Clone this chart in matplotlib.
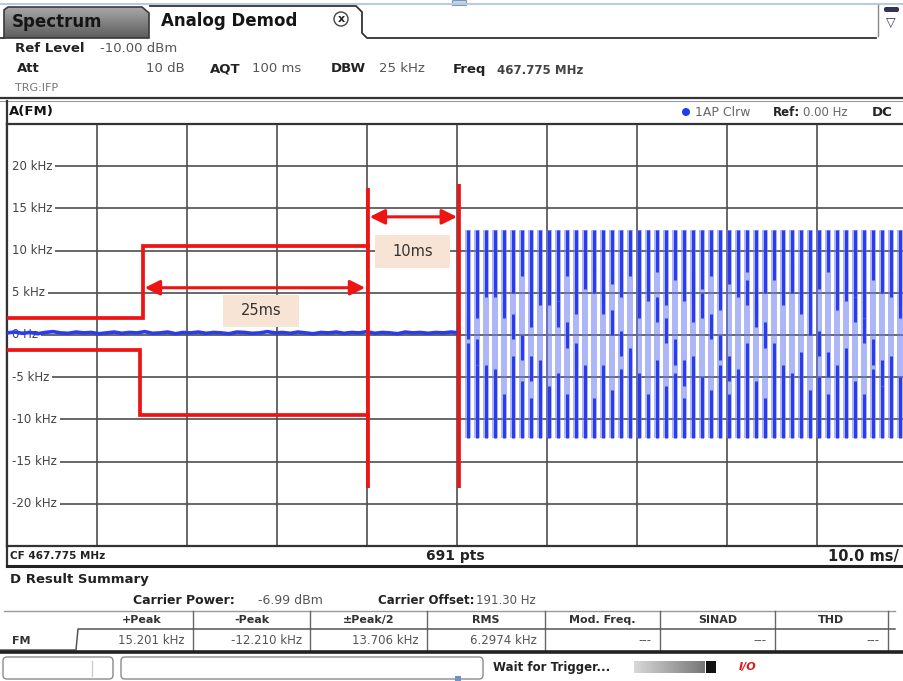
import numpy as np
import matplotlib.pyplot as plt
from matplotlib.colors import LinearSegmentedColormap
from matplotlib.patches import Rectangle, Polygon, Circle, FancyBboxPatch

plt.rcParams['font.family'] = ['DejaVu Sans']

# ---- trace data (time in ms, FM deviation in kHz) ----
# pre-trigger residual FM, read as small ripple round the 0 Hz line
pre_v = [0.25, 0.35, 0.2, 0.3, 0.15, 0.3, 0.4, 0.25, 0.2, 0.35, 0.25, 0.3, 0.15, 0.25, 0.35,
         0.2, 0.3, 0.25, 0.4, 0.2, 0.25, 0.35, 0.15, 0.3, 0.25, 0.35, 0.2, 0.3, 0.25, 0.15,
         0.35, 0.3, 0.2, 0.25, 0.4, 0.25, 0.3, 0.2, 0.35, 0.25, 0.15, 0.3, 0.25, 0.35, 0.2,
         0.3, 0.25, 0.4, 0.2, 0.3, 0.25, 0.15, 0.35, 0.25, 0.3, 0.2, 0.3, 0.25, 0.35, 0.25]

# modulated part: one stroke per tone cycle (about 1 ms apart)
tone_t = [51.2, 52.2, 53.2, 54.2, 55.2, 56.2, 57.2, 58.2, 59.2, 60.2,
          61.2, 62.2, 63.2, 64.2, 65.2, 66.2, 67.2, 68.2, 69.2, 70.2,
          71.2, 72.2, 73.2, 74.2, 75.2, 76.2, 77.2, 78.2, 79.2, 80.2,
          81.2, 82.2, 83.2, 84.2, 85.2, 86.2, 87.2, 88.2, 89.2, 90.2,
          91.2, 92.2, 93.2, 94.2, 95.2, 96.2, 97.2, 98.2, 99.2]
tone_hi = 12.4
tone_lo = -12.2
top_end = [0.5, 2.0, 4.5, 6.5, 3.0, 5.0, 7.0, 1.0, 3.5, 6.0, 4.0, 7.0, 2.5, 5.5, 7.5,
           3.0, 6.0, 4.5, 7.0, 2.0, 5.0, 7.5, 3.5, 6.5, 4.0, 1.5, 5.5, 7.0, 3.0, 6.0,
           4.5, 7.5, 2.5, 5.0, 6.5, 3.5, 7.0, 4.0, 1.0, 5.5, 7.5, 3.0, 6.0, 4.5, 2.0,
           6.5, 5.0, 7.0, 3.5]
bot_end = [-1.0, -3.5, -6.0, -4.0, -7.0, -2.5, -5.5, -7.5, -3.0, -6.0, -4.5, -7.0,
           -2.0, -5.0, -7.5, -3.5, -6.5, -4.0, -1.5, -5.5, -7.0, -3.0, -6.0, -4.5,
           -7.5, -2.5, -5.0, -6.5, -3.5, -7.0, -4.0, -1.0, -5.5, -7.5, -3.0, -6.0,
           -4.5, -2.0, -6.5, -5.0, -7.0, -3.5, -1.5, -5.5, -7.0, -4.0, -6.0, -2.5, -5.0]
mid_dash = [1.0, -2.0, -5.0, 6.0, 3.5, 1.0, -1.5, -4.0, -6.5, 5.0, 2.5, 0.0, -2.5,
            -5.0, 6.5, 4.0, 1.5, -1.0, -3.5, -6.0, 5.5, 3.0, 0.5, -2.0, -4.5, 6.0,
            3.5, 1.0, -1.5, -4.0, -6.5, 5.0, 2.5, 0.0, -2.5, -5.0, 6.5, 4.0, 1.5,
            -1.0, -3.5, -6.0, 5.5, 3.0, 0.5, -2.0, -4.5, 6.0, 3.5]

# red annotation overlay (mask steps and gate lines)
upper_t = [0, 15.1, 15.1, 40.1]
upper_v = [2.0, 2.0, 10.5, 10.5]
lower_t = [0, 14.8, 14.8, 40.1]
lower_v = [-1.8, -1.8, -9.5, -9.5]
gate_t = [40.1, 50.2]
gate_top = [17.4, 17.9]
gate_bot = [-18.1, -18.1]

ytick_vals = [20, 15, 10, 5, 0, -5, -10, -15, -20]
ytick_text = ['20 kHz', '15 kHz', '10 kHz', '5 kHz', '0 Hz', '-5 kHz', '-10 kHz', '-15 kHz', '-20 kHz']

tbl_head = ['+Peak', '-Peak', '\u00b1Peak/2', 'RMS', 'Mod. Freq.', 'SINAD', 'THD']
tbl_vals = ['15.201 kHz', '-12.210 kHz', '13.706 kHz', '6.2974 kHz', '---', '---', '---']
tbl_seps = [90, 193, 310, 427, 545, 660, 775, 888]

RED = '#ee1414'
BLUE_D = '#2a3cec'
DARK = '#222222'
GRAY = '#555555'

W, H = 904, 681
fig = plt.figure(figsize=(W / 100, H / 100), dpi=100)
ov = fig.add_axes([0, 0, 1, 1])
ov.set_xlim(0, W)
ov.set_ylim(H, 0)
ov.axis('off')

# ---- tab row ----
ov.plot([0, W], [4, 4], color='#b9cbe0', lw=1.5)
tab = Polygon([(4, 38), (4, 10), (8, 7), (142, 7), (149, 13), (149, 38)], closed=True,
              facecolor='none', edgecolor='#3a3a3a', lw=1.2)
ov.add_patch(tab)
grad = np.linspace(0, 1, 60).reshape(-1, 1)
im = ov.imshow(grad, extent=[4, 149, 38, 7], origin='upper', aspect='auto',
               cmap=LinearSegmentedColormap.from_list('tab', ['#a8a8a8', '#5c5c5c']))
im.set_clip_path(tab)
ov.text(12, 22, 'Spectrum', fontsize=12, fontweight='bold', color='#151515', va='center')
ov.plot([150, 356, 362, 362, 367, 876], [6, 6, 12, 33, 38, 38], color='#333333', lw=1.3)
ov.text(161, 21, 'Analog Demod', fontsize=12, fontweight='bold', color='#151515', va='center')
ov.add_patch(Circle((341, 19), 7, facecolor='white', edgecolor='#444444', lw=1))
ov.text(341, 19, 'x', fontsize=8, fontweight='bold', ha='center', va='center', color='#222222')
ov.plot([0, 4], [38, 38], color='#333333', lw=1.3)
ov.plot([878, 878], [5, 36], color='#888888', lw=1)
ov.add_patch(FancyBboxPatch((884, 7), 15, 5, boxstyle='round,pad=0,rounding_size=2',
                            facecolor='#333355', edgecolor='none'))
ov.text(891, 23, '\u25bd', fontsize=9, ha='center', va='center', color='#333366')
ov.add_patch(Rectangle((452, 0), 14, 5, facecolor='#c7d6ea', edgecolor='#7f97b8', lw=0.8))

# ---- header ----
hdr = dict(fontsize=9.5, va='center')
ov.text(15, 48, 'Ref Level', fontweight='bold', color=DARK, **hdr)
ov.text(100, 48, '-10.00 dBm', color=GRAY, **hdr)
ov.text(17, 69, 'Att', fontweight='bold', color=DARK, **hdr)
ov.text(146, 69, '10 dB', color=GRAY, **hdr)
ov.text(210, 69, 'AQT', fontweight='bold', color=DARK, **hdr)
ov.text(252, 69, '100 ms', color=GRAY, **hdr)
ov.text(331, 69, 'DBW', fontweight='bold', color=DARK, **hdr)
ov.text(379, 69, '25 kHz', color=GRAY, **hdr)
ov.text(453, 69, 'Freq', fontweight='bold', color=DARK, **hdr)
ov.text(497, 70, '467.775 MHz', fontweight='bold', color='#444444', fontsize=8.5, va='center')
ov.text(15, 88, 'TRG:IFP', fontsize=8, color='#777777', va='center')
ov.plot([0, W], [98, 98], color='#333333', lw=1.6)
ov.plot([0, W], [101, 101], color='#9a9a9a', lw=0.8)

# ---- trace title bar ----
ov.plot([7, 7], [101, 566], color='#333333', lw=1.6)
ov.text(9, 112, 'A(FM)', fontsize=9.5, fontweight='bold', color='#111111', va='center')
ov.add_patch(Circle((686, 112), 4, facecolor='#1e3cf0', edgecolor='none'))
ov.text(695, 112, '1AP Clrw', fontsize=9, color='#666666', va='center')
ov.text(773, 112, 'Ref:', fontsize=8.5, fontweight='bold', color=DARK, va='center')
ov.text(803, 112, '0.00 Hz', fontsize=8.5, color='#666666', va='center')
ov.text(872, 112, 'DC', fontsize=9.5, fontweight='bold', color=DARK, va='center')

# ---- plot area ----
PX_L, PX_R, PX_T, PX_B = 7, 907, 124, 546
ax = fig.add_axes([PX_L / W, 1 - PX_B / H, (PX_R - PX_L) / W, (PX_B - PX_T) / H])
ax.set_xlim(0, 100)
ax.set_ylim(-25, 25)
ax.set_xticks(np.arange(0, 101, 10))
ax.set_yticks(np.arange(-25, 26, 5))
ax.tick_params(length=0, labelbottom=False, labelleft=False)
ax.grid(True, color='#4e4e4e', lw=1.2)
ax.set_axisbelow(True)
for sp in ax.spines.values():
    sp.set_color('#333333')
    sp.set_linewidth(1.6)

for v, s in zip(ytick_vals, ytick_text):
    ax.text(0.5, v, s, fontsize=8.5, color='#444444', va='center', ha='left', zorder=2,
            bbox=dict(facecolor='white', edgecolor='none', pad=2.5))

# trace
pre_t = np.linspace(0, 50.2, len(pre_v))
ax.plot(pre_t, pre_v, color=BLUE_D, lw=2.6, zorder=4)
ax.vlines(tone_t, tone_lo, tone_hi, color='#6a7cf2', alpha=0.55, lw=4.3, zorder=3)
ax.vlines(tone_t, top_end, tone_hi, color=BLUE_D, lw=2.2, zorder=4)
ax.vlines(tone_t, tone_lo, bot_end, color=BLUE_D, lw=2.2, zorder=4)
ax.vlines(tone_t, np.array(mid_dash) - 1.5, np.array(mid_dash) + 1.5, color=BLUE_D, lw=2.2, zorder=4)

# red markings
ax.plot(upper_t, upper_v, color=RED, lw=2.7, zorder=5, solid_joinstyle='miter')
ax.plot(lower_t, lower_v, color=RED, lw=2.7, zorder=5, solid_joinstyle='miter')
ax.vlines(gate_t, gate_bot, gate_top, color=RED, lw=2.7, zorder=5)
arrow = dict(arrowstyle='<|-|>,head_length=0.6,head_width=0.3', color=RED, lw=2.2,
             shrinkA=0, shrinkB=0, mutation_scale=15)
ax.annotate('', xy=(15.3, 5.6), xytext=(39.8, 5.6), arrowprops=arrow, zorder=5)
ax.annotate('', xy=(40.3, 14.0), xytext=(50.0, 14.0), arrowprops=arrow, zorder=5)
ax.add_patch(Rectangle((24.0, 1.0), 8.4, 3.7, facecolor='#f8e4d4', edgecolor='none', zorder=5))
ax.text(28.2, 2.85, '25ms', fontsize=10.5, color='#333333', ha='center', va='center', zorder=6)
ax.add_patch(Rectangle((40.9, 7.9), 8.3, 3.9, facecolor='#f8e4d4', edgecolor='none', zorder=5))
ax.text(45.05, 9.85, '10ms', fontsize=10.5, color='#333333', ha='center', va='center', zorder=6)

# ---- footer of trace window ----
ov.text(10, 556, 'CF 467.775 MHz', fontsize=7.5, fontweight='bold', color=DARK, va='center')
ov.text(455, 556, '691 pts', fontsize=10, fontweight='bold', color=DARK, va='center', ha='center')
ov.text(899, 556, '10.0 ms/', fontsize=10.5, fontweight='bold', color=DARK, va='center', ha='right')
ov.plot([7, W], [566, 566], color='#222222', lw=2.2)

# ---- result summary ----
ov.text(10, 580, 'D Result Summary', fontsize=9.5, fontweight='bold', color=DARK, va='center')
ov.text(133, 600, 'Carrier Power:', fontsize=9, fontweight='bold', color=DARK, va='center')
ov.text(258, 600, '-6.99 dBm', fontsize=9, color=GRAY, va='center')
ov.text(378, 600, 'Carrier Offset:', fontsize=8.5, fontweight='bold', color=DARK, va='center')
ov.text(476, 600, '191.30 Hz', fontsize=8.5, color=GRAY, va='center')

ov.plot([4, 895], [611, 611], color='#999999', lw=1)
for i, (h, v) in enumerate(zip(tbl_head, tbl_vals)):
    left, right = tbl_seps[i], tbl_seps[i + 1]
    ov.text((left + right) / 2, 620, h, fontsize=8, fontweight='bold', color='#333333',
            ha='center', va='center')
    ov.text(right - 8, 641, v, fontsize=8.5, color=GRAY, ha='right', va='center')
for x in tbl_seps[1:]:
    ov.plot([x, x], [611, 650], color='#666666', lw=1)
ov.plot([0, 76, 78, 895], [650, 650, 629, 629], color='#555555', lw=1.1)
ov.text(12, 641, 'FM', fontsize=8, fontweight='bold', color='#333333', va='center')
ov.plot([0, W], [652, 652], color='#222222', lw=2.6)

# ---- status bar ----
ov.add_patch(FancyBboxPatch((3, 657), 110, 22, boxstyle='round,pad=0,rounding_size=4',
                            facecolor='white', edgecolor='#8a8a8a', lw=1))
ov.plot([92, 92], [661, 676], color='#cccccc', lw=1)
ov.add_patch(FancyBboxPatch((121, 657), 362, 22, boxstyle='round,pad=0,rounding_size=4',
                            facecolor='white', edgecolor='#8a8a8a', lw=1))
ov.add_patch(Rectangle((455, 676), 6, 5, facecolor='#6f8fd0', edgecolor='none'))
ov.text(493, 667, 'Wait for Trigger...', fontsize=8.5, fontweight='bold', color=DARK, va='center')
bar = np.linspace(0.2, 1, 60).reshape(1, -1)
ov.imshow(bar, extent=[634, 705, 673, 661], origin='upper', aspect='auto',
          cmap=LinearSegmentedColormap.from_list('bar', ['#d8d8d8', '#777777']))
ov.add_patch(Rectangle((706, 661), 10, 12, facecolor='#111111', edgecolor='none'))
ov.text(748, 667, 'I/O', fontsize=8, fontweight='bold', style='italic', color='#e01818',
        ha='center', va='center')

fig.savefig('out.png', dpi=100)
